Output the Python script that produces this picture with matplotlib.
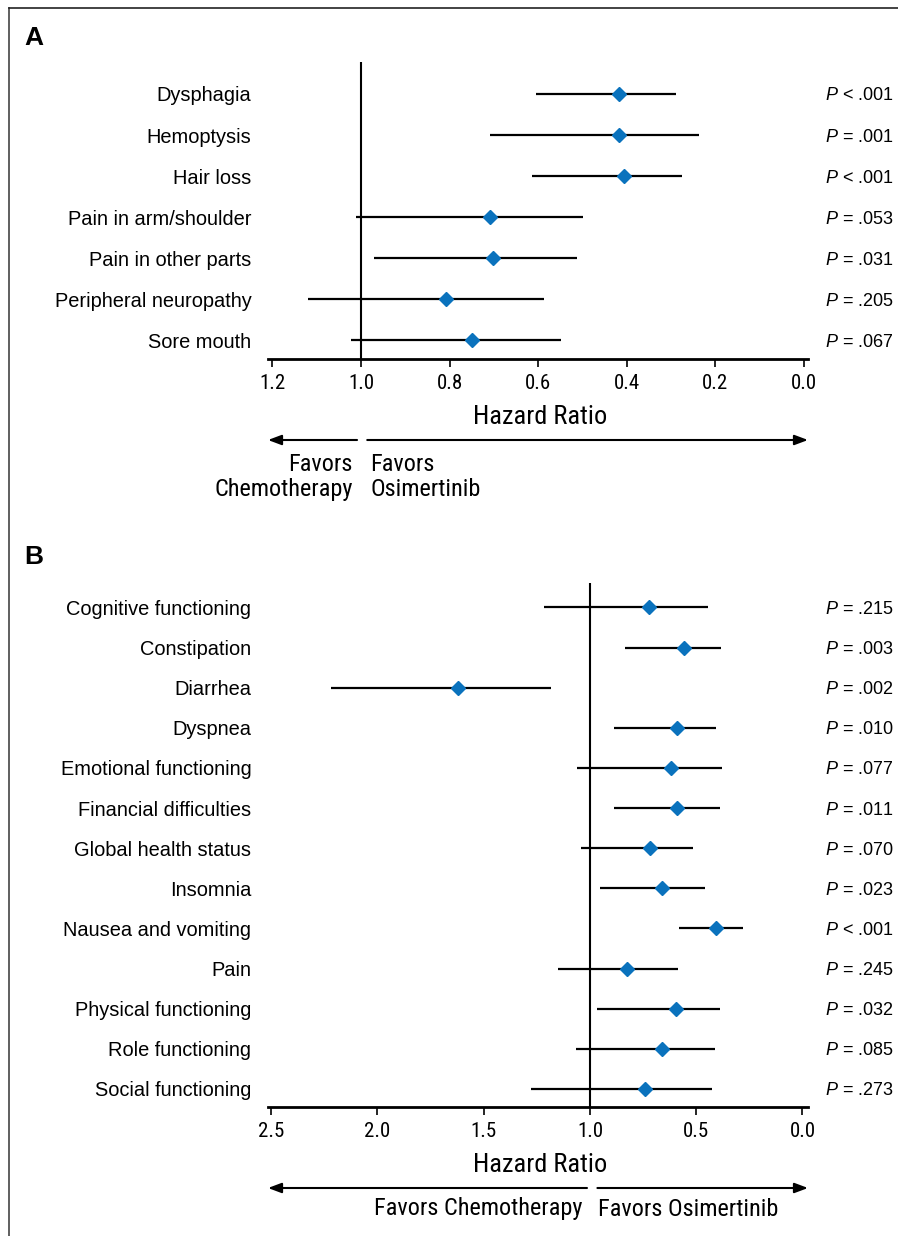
import matplotlib
matplotlib.use("Agg")
import matplotlib.pyplot as plt
from matplotlib.lines import Line2D
from matplotlib.transforms import blended_transform_factory

plt.rcParams["font.family"] = ["Liberation Sans", "DejaVu Sans"]
plt.rcParams["mathtext.fontset"] = "custom"
plt.rcParams["mathtext.it"] = "Liberation Sans:italic"
plt.rcParams["mathtext.rm"] = "Liberation Sans"

NARROW = ["Roboto Condensed", "Liberation Sans Narrow", "DejaVu Sans"]
BLUE = "#0a72bd"

# ---- panel A data ----
a_labels = ["Dysphagia", "Hemoptysis", "Hair loss", "Pain in arm/shoulder",
            "Pain in other parts", "Peripheral neuropathy", "Sore mouth"]
a_hr = [0.418, 0.418, 0.406, 0.709, 0.702, 0.808, 0.749]
a_lo = [0.289, 0.237, 0.276, 0.500, 0.513, 0.588, 0.548]
a_hi = [0.606, 0.709, 0.615, 1.011, 0.971, 1.120, 1.023]
a_p = ["< .001", "= .001", "< .001", "= .053", "= .031", "= .205", "= .067"]
a_ticks = [1.2, 1.0, 0.8, 0.6, 0.4, 0.2, 0.0]

# ---- panel B data ----
b_labels = ["Cognitive functioning", "Constipation", "Diarrhea", "Dyspnea",
            "Emotional functioning", "Financial difficulties", "Global health status",
            "Insomnia", "Nausea and vomiting", "Pain", "Physical functioning",
            "Role functioning", "Social functioning"]
b_hr = [0.724, 0.556, 1.623, 0.592, 0.619, 0.592, 0.719, 0.660, 0.408, 0.826,
        0.595, 0.663, 0.741]
b_lo = [0.443, 0.385, 1.185, 0.408, 0.379, 0.390, 0.514, 0.459, 0.281, 0.587,
        0.390, 0.410, 0.426]
b_hi = [1.215, 0.834, 2.219, 0.888, 1.060, 0.888, 1.042, 0.953, 0.580, 1.151,
        0.968, 1.066, 1.279]
b_p = ["= .215", "= .003", "= .002", "= .010", "= .077", "= .011", "= .070",
       "= .023", "< .001", "= .245", "= .032", "= .085", "= .273"]
b_ticks = [2.5, 2.0, 1.5, 1.0, 0.5, 0.0]

W, H = 898, 1236
fig = plt.figure(figsize=(W / 100, H / 100), dpi=100)


def fx(px):
    return px / W


def fy(px):
    return 1 - px / H


def forest(ax, labels, hr, lo, hi, pvals, ticks, xlim, ylim):
    n = len(labels)
    rows = list(range(n))
    ax.set_xlim(*xlim)
    ax.set_ylim(*ylim)
    ax.axvline(1.0, color="black", lw=1.5, zorder=1)
    ax.hlines(rows, lo, hi, color="black", lw=1.6, zorder=2)
    ax.plot(hr, rows, "D", color=BLUE, ms=7, mec=BLUE, zorder=3)
    ax.set_yticks(rows)
    ax.set_yticklabels(labels, fontsize=14.4)
    ax.tick_params(axis="y", length=0, pad=12)
    ax.set_xticks(ticks)
    ax.set_xticklabels([f"{t:.1f}" for t in ticks], family=NARROW,
                       fontstretch="condensed", fontsize=15)
    ax.tick_params(axis="x", length=6, width=1.2, pad=5, direction="out")
    for s in ("left", "top", "right"):
        ax.spines[s].set_visible(False)
    ax.spines["bottom"].set_linewidth(2)
    tr = blended_transform_factory(fig.transFigure, ax.transData)
    for r, p in zip(rows, pvals):
        ax.text(fx(825), r, f"$P$ {p}", transform=tr, ha="left",
                va="center_baseline", fontsize=13)


def arrows(ax, y, left_tail, left_head, right_tail, right_head):
    tr = ax.get_xaxis_transform()
    props = dict(arrowstyle="-|>,head_length=0.8,head_width=0.3",
                 color="black", lw=1.5, shrinkA=0, shrinkB=0)
    ax.annotate("", xy=(left_head, y), xytext=(left_tail, y),
                xycoords=tr, textcoords=tr, arrowprops=props, annotation_clip=False)
    ax.annotate("", xy=(right_head, y), xytext=(right_tail, y),
                xycoords=tr, textcoords=tr, arrowprops=props, annotation_clip=False)


# panel A: axes from px x 268..808, y 62..359
axA = fig.add_axes([fx(268), fy(359), fx(808) - fx(268), (359 - 62) / H])
forest(axA, a_labels, a_hr, a_lo, a_hi, a_p, a_ticks,
       xlim=(1.21, -0.009), ylim=(6.46, -0.78))
arrows(axA, (359 - 440) / (359 - 62), 1.009, 1.21, 0.986, -0.009)

# panel B: axes from px x 268..808, y 583..1107
axB = fig.add_axes([fx(268), fy(1107), fx(808) - fx(268), (1107 - 583) / H])
forest(axB, b_labels, b_hr, b_lo, b_hi, b_p, b_ticks,
       xlim=(2.515, -0.026), ylim=(12.45, -0.61))
arrows(axB, (1107 - 1188) / (1107 - 583), 1.014, 2.515, 0.965, -0.026)

# axis titles and direction captions
cond = dict(family=NARROW, fontstretch="condensed")
for y in (417, 1165):
    fig.text(fx(540), fy(y), "Hazard Ratio", fontsize=19,
             ha="center", va="center", **cond)
fig.text(fx(353), fy(477), "Favors\nChemotherapy", fontsize=17.5,
         ha="right", va="center", linespacing=1.1, multialignment="right", **cond)
fig.text(fx(370), fy(477), "Favors\nOsimertinib", fontsize=17.5,
         ha="left", va="center", linespacing=1.1, **cond)
fig.text(fx(583), fy(1209), "Favors Chemotherapy", fontsize=17.5,
         ha="right", va="center", **cond)
fig.text(fx(598), fy(1209), "Favors Osimertinib", fontsize=17.5,
         ha="left", va="center", **cond)

# panel letters
fig.text(fx(24), fy(38), "A", fontsize=19, fontweight="bold", ha="left", va="center")
fig.text(fx(24), fy(557), "B", fontsize=19, fontweight="bold", ha="left", va="center")

# frame: left and top rules
fig.add_artist(Line2D([fx(9), fx(9)], [fy(8), 0], color="#444444", lw=1.2))
fig.add_artist(Line2D([fx(9), 1], [fy(8), fy(8)], color="#222222", lw=1.2))

fig.savefig("out.png", dpi=100)
